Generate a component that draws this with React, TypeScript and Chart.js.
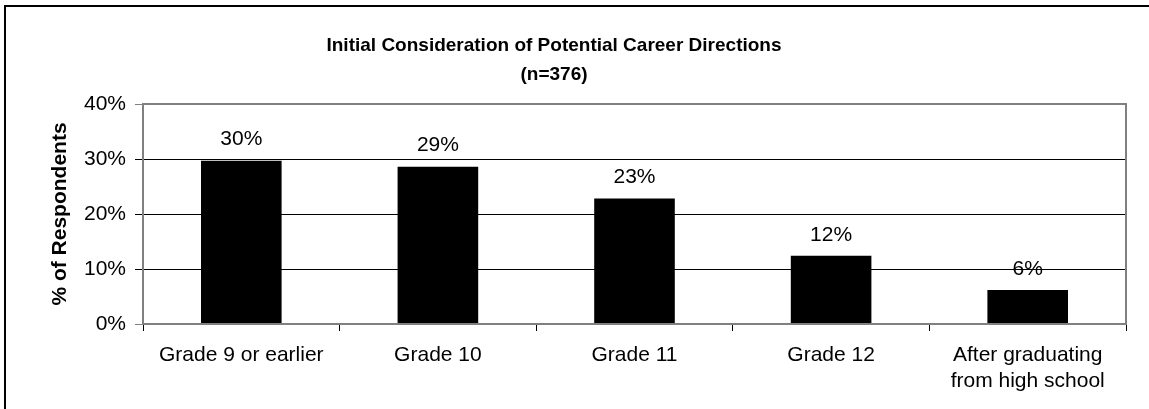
import React, { useEffect, useRef } from "react";
import { Chart, registerables } from "chart.js";

Chart.register(...registerables);

const categories: (string | string[])[] = [
  "Grade 9 or earlier",
  "Grade 10",
  "Grade 11",
  "Grade 12",
  ["After graduating", "from high school"],
];
const respondentsPct = [29.7, 28.6, 22.8, 12.4, 6.2];
const valueLabels = ["30%", "29%", "23%", "12%", "6%"];
const yTicks = [0, 10, 20, 30, 40];
const titleLines = ["Initial Consideration of Potential Career Directions", "(n=376)"];
const yAxisTitle = "% of Respondents";

const FONT = "Arial, 'Liberation Sans', Helvetica, sans-serif";

const decorPlugin = {
  id: "decor",
  beforeDraw(chart: any) {
    const ctx = chart.ctx;
    ctx.save();
    ctx.fillStyle = "#fff";
    ctx.fillRect(0, 0, chart.width, chart.height);
    // outer frame (left & top visible)
    ctx.strokeStyle = "#000";
    ctx.lineWidth = 2;
    ctx.strokeRect(5, 6, chart.width + 20, chart.height + 20);
    ctx.restore();
  },
  afterDatasetsDraw(chart: any) {
    const ctx = chart.ctx;
    const a = chart.chartArea;
    ctx.save();
    // plot area border (gray)
    ctx.strokeStyle = "#808080";
    ctx.lineWidth = 2;
    ctx.strokeRect(a.left, a.top, a.right - a.left, a.bottom - a.top);
    // title
    ctx.fillStyle = "#000";
    ctx.textAlign = "center";
    ctx.textBaseline = "middle";
    ctx.font = `bold 19px ${FONT}`;
    ctx.fillText(titleLines[0], 554, 46);
    ctx.fillText(titleLines[1], 554, 75);
    // y axis title
    ctx.save();
    ctx.translate(60, 214);
    ctx.rotate(-Math.PI / 2);
    ctx.font = `bold 21px ${FONT}`;
    ctx.fillText(yAxisTitle, 0, 0);
    ctx.restore();
    // value labels
    ctx.font = `21px ${FONT}`;
    const meta = chart.getDatasetMeta(0);
    meta.data.forEach((bar: any, i: number) => {
      ctx.fillText(valueLabels[i], bar.x, bar.y - 21);
    });
    ctx.restore();
  },
};

export default function App() {
  const ref = useRef<HTMLCanvasElement | null>(null);
  useEffect(() => {
    document.body.style.margin = "0";
    const chart = new Chart(ref.current as HTMLCanvasElement, {
      type: "bar",
      data: {
        labels: categories,
        datasets: [
          {
            data: respondentsPct,
            backgroundColor: "#000",
            borderWidth: 0,
            barPercentage: 0.41,
            categoryPercentage: 1,
          },
        ],
      },
      options: {
        animation: false,
        responsive: false,
        devicePixelRatio: 1,
        layout: { padding: { left: 0, right: 23, top: 104, bottom: 0 } },
        plugins: { legend: { display: false }, tooltip: { enabled: false }, title: { display: false } },
        scales: {
          x: {
            grid: {
              drawOnChartArea: false,
              drawTicks: true,
              tickLength: 7,
              color: "#000",
              lineWidth: 1,
              offset: true,
            },
            border: { display: true, color: "#808080", width: 2 },
            ticks: {
              color: "#000",
              font: { family: FONT, size: 21, lineHeight: 1.24 },
              padding: 11,
              maxRotation: 0,
              autoSkip: false,
            },
            afterFit(scale: any) {
              scale.height = 85;
            },
          },
          y: {
            min: 0,
            max: 40,
            afterBuildTicks(scale: any) {
              scale.ticks = yTicks.map((v) => ({ value: v }));
            },
            grid: {
              color: (c: any) => (c.tick && (c.tick.value === 0 || c.tick.value === 40) ? "#808080" : "#000"),
              lineWidth: 1,
              tickLength: 8,
              drawTicks: true,
            },
            border: { display: true, color: "#808080", width: 2 },
            ticks: {
              color: "#000",
              font: { family: FONT, size: 21 },
              padding: 9,
              callback: (v: any) => `${v}%`,
            },
            afterFit(scale: any) {
              scale.width = 143;
            },
          },
        },
      },
      plugins: [decorPlugin],
    });
    return () => chart.destroy();
  }, []);
  return <canvas ref={ref} width={1149} height={409} style={{ display: "block" }} />;
}
